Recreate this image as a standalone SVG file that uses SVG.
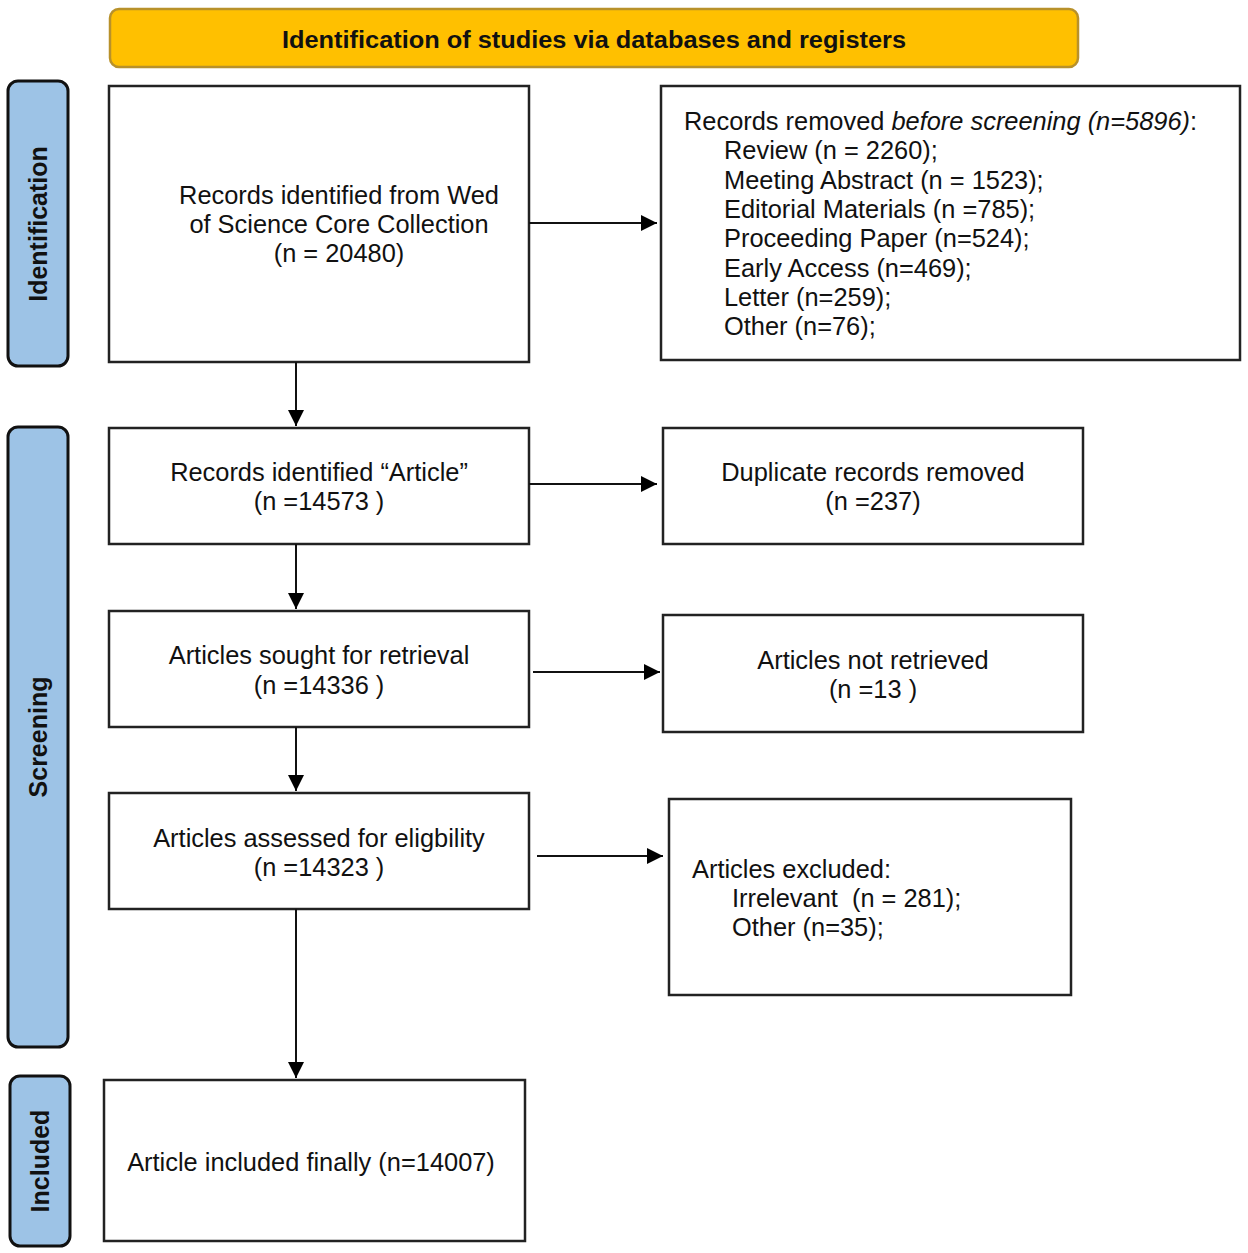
<svg xmlns="http://www.w3.org/2000/svg" width="1248" height="1253" viewBox="0 0 1248 1253">
<defs>
<marker id="ah" viewBox="0 0 10 10" refX="10" refY="5" markerWidth="8" markerHeight="8" markerUnits="strokeWidth" orient="auto">
<path d="M0,0 L10,5 L0,10 z" fill="#000"/>
</marker>
</defs>
<style>
.box{fill:#fff;stroke:#222;stroke-width:2.5}
.side{fill:#9DC3E6;stroke:#111;stroke-width:3}
.t{font-family:"Liberation Sans",Arial,sans-serif;font-size:25.4px;fill:#111}
.c{text-anchor:middle}
.sl{font-family:"Liberation Sans",Arial,sans-serif;font-size:25px;font-weight:bold;fill:#111;text-anchor:middle}
.hd{font-family:"Liberation Sans",Arial,sans-serif;font-size:23px;font-weight:bold;fill:#111;text-anchor:middle}
.conn line{stroke:#111;stroke-width:2;marker-end:url(#ah)}
</style>
<rect width="1248" height="1253" fill="#fff"/>
<g id="header">
<rect x="110" y="9" width="968" height="58" rx="9" fill="#FFC000" stroke="#B8912A" stroke-width="2.5"/>
<text class="hd" x="594" y="48" textLength="624" lengthAdjust="spacingAndGlyphs">Identification of studies via databases and registers</text>
</g>
<g id="side-identification">
<rect class="side" x="8" y="81" width="60" height="285" rx="10"/>
<text class="sl" transform="translate(47,224) rotate(-90)">Identification</text>
</g>
<g id="side-screening">
<rect class="side" x="8" y="427" width="60" height="620" rx="10"/>
<text class="sl" transform="translate(47,737) rotate(-90)">Screening</text>
</g>
<g id="side-included">
<rect class="side" x="10" y="1076" width="60" height="170" rx="10"/>
<text class="sl" transform="translate(49,1161) rotate(-90)">Included</text>
</g>
<g id="n1">
<rect class="box" x="109" y="86" width="420" height="276"/>
<text class="t c" x="339" y="204">Records identified from Wed</text>
<text class="t c" x="339" y="233">of Science Core Collection</text>
<text class="t c" x="339" y="262">(n = 20480)</text>
</g>
<g id="n2">
<rect class="box" x="661" y="86" width="579" height="274"/>
<text class="t" x="684" y="130">Records removed <tspan font-style="italic">before screening (n=5896)</tspan>:</text>
<text class="t" x="724" y="159">Review (n = 2260);</text>
<text class="t" x="724" y="189">Meeting Abstract (n = 1523);</text>
<text class="t" x="724" y="218">Editorial Materials (n =785);</text>
<text class="t" x="724" y="247">Proceeding Paper (n=524);</text>
<text class="t" x="724" y="277">Early Access (n=469);</text>
<text class="t" x="724" y="306">Letter (n=259);</text>
<text class="t" x="724" y="335">Other (n=76);</text>
</g>
<g id="n3">
<rect class="box" x="109" y="428" width="420" height="116"/>
<text class="t c" x="319" y="481">Records identified “Article”</text>
<text class="t c" x="319" y="510">(n =14573 )</text>
</g>
<g id="n4">
<rect class="box" x="663" y="428" width="420" height="116"/>
<text class="t c" x="873" y="481">Duplicate records removed</text>
<text class="t c" x="873" y="510">(n =237)</text>
</g>
<g id="n5">
<rect class="box" x="109" y="611" width="420" height="116"/>
<text class="t c" x="319" y="664">Articles sought for retrieval</text>
<text class="t c" x="319" y="694">(n =14336 )</text>
</g>
<g id="n6">
<rect class="box" x="663" y="615" width="420" height="117"/>
<text class="t c" x="873" y="669">Articles not retrieved</text>
<text class="t c" x="873" y="698">(n =13 )</text>
</g>
<g id="n7">
<rect class="box" x="109" y="793" width="420" height="116"/>
<text class="t c" x="319" y="847">Articles assessed for eligbility</text>
<text class="t c" x="319" y="876">(n =14323 )</text>
</g>
<g id="n8">
<rect class="box" x="669" y="799" width="402" height="196"/>
<text class="t" x="692" y="878">Articles excluded:</text>
<text class="t" x="732" y="907" xml:space="preserve">Irrelevant  (n = 281);</text>
<text class="t" x="732" y="936">Other (n=35);</text>
</g>
<g id="n9">
<rect class="box" x="104" y="1080" width="421" height="161"/>
<text class="t c" x="311" y="1171">Article included finally (n=14007)</text>
</g>
<g id="connectors" class="conn">
<line x1="529" y1="223" x2="657" y2="223"/>
<line x1="296" y1="362" x2="296" y2="426"/>
<line x1="529" y1="484" x2="657" y2="484"/>
<line x1="296" y1="544" x2="296" y2="609"/>
<line x1="533" y1="672" x2="660" y2="672"/>
<line x1="296" y1="727" x2="296" y2="791"/>
<line x1="537" y1="856" x2="663" y2="856"/>
<line x1="296" y1="909" x2="296" y2="1078"/>
</g>
</svg>
